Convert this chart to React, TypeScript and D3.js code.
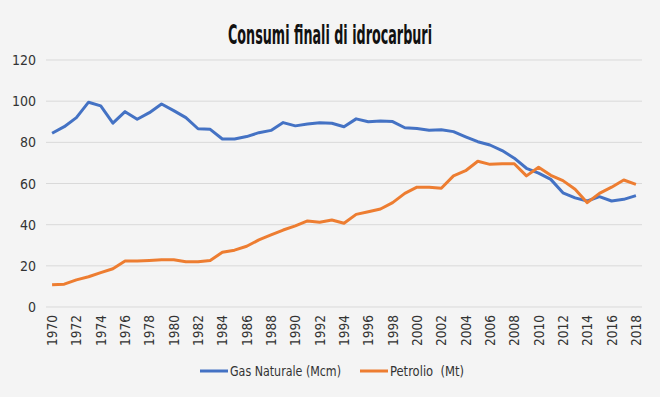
import React from 'react';
import * as d3 from 'd3';

const years = d3.range(1970, 2019);

// Gas Naturale (Mcm)
const gas = [
  84.4, 87.6, 92.0, 99.5, 97.7, 89.3, 94.9, 91.2, 94.4, 98.6,
  95.4, 92.0, 86.6, 86.3, 81.6, 81.6, 82.8, 84.7, 85.8, 89.6,
  88.0, 88.9, 89.5, 89.3, 87.6, 91.4, 90.0, 90.4, 90.1, 87.1,
  86.7, 85.9, 86.1, 85.2, 82.7, 80.3, 78.7, 76.0, 72.3, 67.4,
  65.0, 62.0, 55.5, 53.0, 51.5, 53.6, 51.5, 52.3, 54.1,
];

// Petrolio (Mt)
const oil = [
  10.8, 11.1, 13.2, 14.7, 16.7, 18.6, 22.3, 22.3, 22.6, 23.0,
  23.0, 22.0, 22.0, 22.6, 26.6, 27.6, 29.5, 32.6, 35.0, 37.4,
  39.4, 41.8, 41.2, 42.3, 40.7, 45.0, 46.3, 47.6, 50.7, 55.2,
  58.2, 58.2, 57.7, 63.7, 66.2, 70.8, 69.3, 69.6, 69.6, 63.7,
  67.9, 64.0, 61.4, 57.2, 50.7, 55.2, 58.2, 61.7, 59.6,
];

const yTicks = [0, 20, 40, 60, 80, 100, 120];
const seriesNames = ['Gas Naturale (Mcm)', 'Petrolio  (Mt)'];
const colors = ['#4472C4', '#ED7D31'];

const W = 660;
const H = 397;
const left = 46;
const right = 642;
const top = 60;
const bottom = 307;
const font = '"DejaVu Sans Condensed", "DejaVu Sans", sans-serif';

export default function App() {
  const x = d3.scalePoint<number>().domain(years).range([left, right]).padding(0.5);
  const y = d3.scaleLinear().domain([0, 120]).range([bottom, top]);
  const line = d3
    .line<number>()
    .x((_, i) => x(years[i]) as number)
    .y((d) => y(d));

  const legend = [
    { name: seriesNames[0], x0: 200, color: colors[0], w: 111 },
    { name: seriesNames[1], x0: 360, color: colors[1], w: 74 },
  ];

  return (
    <svg width={W} height={H} style={{ position: 'absolute', left: 0, top: 0, background: '#f4f4f4' }}>
      <rect width={W} height={H} fill="#f4f4f4" />
      <text
        x={228}
        y={44}
        textLength={204}
        lengthAdjust="spacingAndGlyphs"
        fontFamily={font}
        fontStretch="condensed"
        fontWeight="bold"
        fontSize={27}
        fill="#111"
      >
        Consumi finali di idrocarburi
      </text>
      {yTicks.map((t) => (
        <g key={t}>
          <line x1={left} x2={right} y1={y(t)} y2={y(t)} stroke="#d9d9d9" strokeWidth={1} />
          <text x={36} y={y(t) + 5} textAnchor="end" fontFamily={font} fontStretch="condensed" fontSize={14} fill="#333">
            {t}
          </text>
        </g>
      ))}
      {years
        .filter((yr) => yr % 2 === 0)
        .map((yr) => (
          <text
            key={yr}
            transform={`translate(${(x(yr) as number) + 5},315) rotate(-90)`}
            textAnchor="end"
            fontFamily={font}
            fontStretch="condensed"
            fontSize={13.5}
            fill="#333"
          >
            {yr}
          </text>
        ))}
      <path d={line(gas) || ''} fill="none" stroke={colors[0]} strokeWidth={3} strokeLinejoin="round" />
      <path d={line(oil) || ''} fill="none" stroke={colors[1]} strokeWidth={3} strokeLinejoin="round" />
      {legend.map((l) => (
        <g key={l.name}>
          <line x1={l.x0} x2={l.x0 + 28} y1={371} y2={371} stroke={l.color} strokeWidth={3} />
          <text
            x={l.x0 + 30}
            y={376}
            textLength={l.w}
            lengthAdjust="spacingAndGlyphs"
            fontFamily={font}
            fontStretch="condensed"
            fontSize={14}
            fill="#333"
            xmlSpace="preserve"
          >
            {l.name}
          </text>
        </g>
      ))}
    </svg>
  );
}
